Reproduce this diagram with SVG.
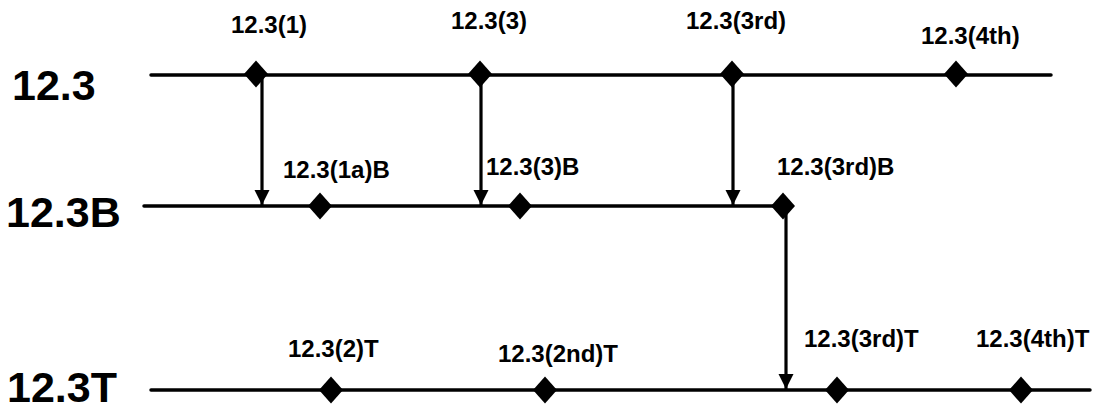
<svg xmlns="http://www.w3.org/2000/svg" xmlns:xlink="http://www.w3.org/1999/xlink" width="1096" height="409" viewBox="0 0 1096 409">
  <style>
    .row { stroke: #000; stroke-width: 3.5; stroke-linecap: round; fill: none; }
    .big { font-family: "Liberation Sans", Arial, sans-serif; font-weight: bold; font-size: 43px; fill: #000; }
    .lbl { font-family: "Liberation Sans", Arial, sans-serif; font-weight: bold; font-size: 24px; fill: #000; }
    .conn { stroke: #000; stroke-width: 3.2; fill: none; }
    .dia { fill: #000; }
  </style>
  <defs>
    <path id="dia" d="M0,-13.5 L12,0 L0,13.5 L-12,0 Z"/>
    <marker id="arrowDown" markerUnits="userSpaceOnUse" markerWidth="16" markerHeight="16" viewBox="0 0 16 16" refX="8" refY="15" orient="0">
      <path d="M0.5,0 L15.5,0 L8,15 Z" fill="#000"/>
    </marker>
  </defs>

  <g id="row-12-3">
    <line class="row" x1="151" y1="75" x2="1051" y2="75"/>
    <text class="big" x="12" y="100">12.3</text>
  </g>
  <g id="row-12-3B">
    <line class="row" x1="144" y1="206" x2="783" y2="206"/>
    <text class="big" x="6" y="227">12.3B</text>
  </g>
  <g id="row-12-3T">
    <line class="row" x1="151" y1="390" x2="1090" y2="390"/>
    <text class="big" x="7" y="402">12.3T</text>
  </g>

  <g id="connectors">
    <line class="conn" x1="262" y1="75" x2="262" y2="205" marker-end="url(#arrowDown)"/>
    <line class="conn" x1="481" y1="75" x2="481" y2="205" marker-end="url(#arrowDown)"/>
    <line class="conn" x1="733" y1="75" x2="733" y2="205" marker-end="url(#arrowDown)"/>
    <line class="conn" x1="786" y1="206" x2="786" y2="389" marker-end="url(#arrowDown)"/>
  </g>

  <g id="ev-12-3-1">
    <use xlink:href="#dia" class="dia" x="256" y="74"/>
    <text class="lbl" x="231" y="33">12.3(1)</text>
  </g>
  <g id="ev-12-3-3">
    <use xlink:href="#dia" class="dia" x="480" y="74"/>
    <text class="lbl" x="451" y="29">12.3(3)</text>
  </g>
  <g id="ev-12-3-3rd">
    <use xlink:href="#dia" class="dia" x="732" y="74"/>
    <text class="lbl" x="686" y="29">12.3(3rd)</text>
  </g>
  <g id="ev-12-3-4th">
    <use xlink:href="#dia" class="dia" x="956" y="74"/>
    <text class="lbl" x="921" y="44">12.3(4th)</text>
  </g>

  <g id="ev-12-3-1aB">
    <use xlink:href="#dia" class="dia" x="320" y="206"/>
    <text class="lbl" x="283" y="178">12.3(1a)B</text>
  </g>
  <g id="ev-12-3-3B">
    <use xlink:href="#dia" class="dia" x="520" y="206"/>
    <text class="lbl" x="486" y="175">12.3(3)B</text>
  </g>
  <g id="ev-12-3-3rdB">
    <use xlink:href="#dia" class="dia" x="783" y="206"/>
    <text class="lbl" x="777" y="175">12.3(3rd)B</text>
  </g>

  <g id="ev-12-3-2T">
    <use xlink:href="#dia" class="dia" x="331" y="390"/>
    <text class="lbl" x="288" y="357">12.3(2)T</text>
  </g>
  <g id="ev-12-3-2ndT">
    <use xlink:href="#dia" class="dia" x="545" y="390"/>
    <text class="lbl" x="498" y="362">12.3(2nd)T</text>
  </g>
  <g id="ev-12-3-3rdT">
    <use xlink:href="#dia" class="dia" x="837" y="390"/>
    <text class="lbl" x="804" y="347">12.3(3rd)T</text>
  </g>
  <g id="ev-12-3-4thT">
    <use xlink:href="#dia" class="dia" x="1021" y="390"/>
    <text class="lbl" x="976" y="347">12.3(4th)T</text>
  </g>
</svg>
